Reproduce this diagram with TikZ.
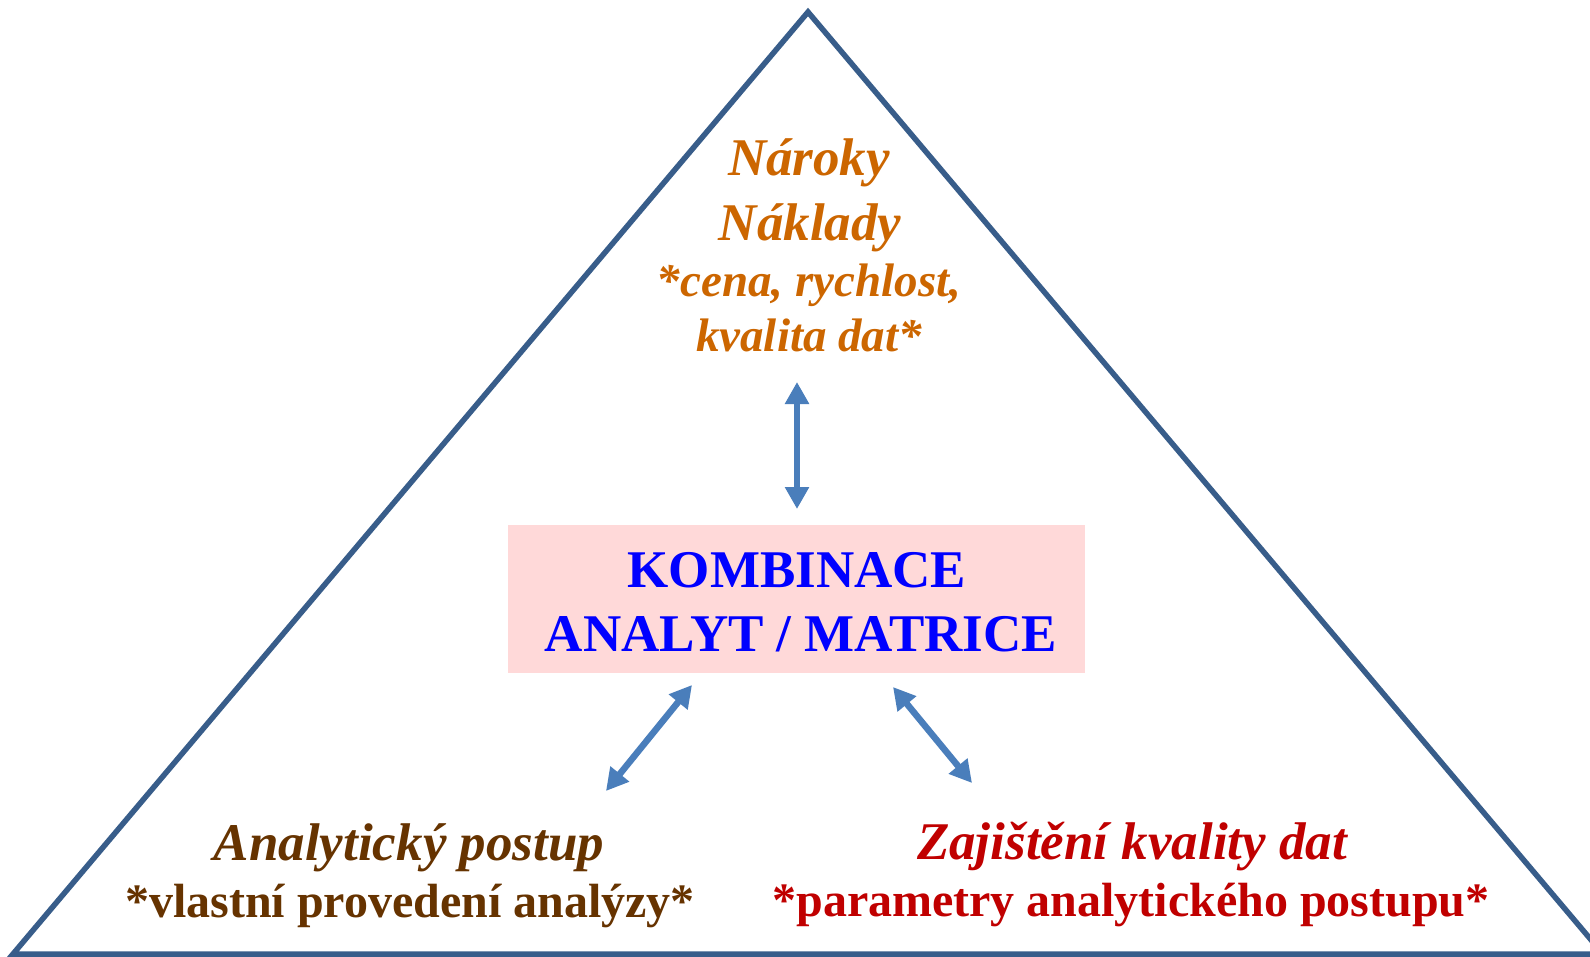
\documentclass[tikz,border=0pt]{standalone}
\usepackage{fontspec}
\setmainfont{Liberation Serif}
\usetikzlibrary{arrows.meta}
\definecolor{triblue}{RGB}{56,93,138}
\definecolor{arrblue}{RGB}{74,126,187}
\definecolor{orng}{RGB}{204,102,0}
\definecolor{brwn}{RGB}{102,51,0}
\definecolor{dred}{RGB}{192,0,0}
\definecolor{pinkbox}{RGB}{255,217,217}
\tikzset{
  tri/.style={draw=triblue, line width=5.5pt, line join=miter},
  dbl/.style={draw=arrblue, line width=6.5pt,
    {Triangle[width=23pt 0 0,length=22pt 0 0]}-{Triangle[width=23pt 0 0,length=22pt 0 0]}},
  big/.style={inner sep=0pt, anchor=base, font=\fontsize{53}{60}\selectfont\bfseries},
  bigit/.style={big, font=\fontsize{53}{60}\selectfont\bfseries\itshape},
  smit/.style={inner sep=0pt, anchor=base, font=\fontsize{47}{54}\selectfont\bfseries\itshape},
  sm/.style={inner sep=0pt, anchor=base, font=\fontsize{48}{54}\selectfont\bfseries},
}
\begin{document}
\begin{tikzpicture}[x=1pt,y=-1pt]
\clip (0,0) rectangle (1590,957);
\fill[white] (0,0) rectangle (1590,957);
% triangle
\draw[tri] (808,12) -- (13,954) -- (1603,954) -- cycle;
% central box
\node[fill=pinkbox, minimum width=577pt, minimum height=148pt, inner sep=0pt, anchor=north west] (comb) at (508,525) {};
\node[big, text=blue] (kombA) at (797,587) {KOMBINACE};
\node[big, text=blue] (kombB) at (801,651) {ANALYT / MATRICE};
% top text
\node[bigit, text=orng] (naroky) at (809,176) {Nároky};
\node[bigit, text=orng] (naklady) at (810,241) {Náklady};
\node[smit, text=orng] (cena) at (809,297) {*cena, rychlost,};
\node[smit, text=orng] (kval) at (809,352) {kvalita dat*};
% bottom left
\node[bigit, text=brwn] (anal) at (409,860) {Analytický postup};
\node[sm, text=brwn] (vlast) at (410,917) {*vlastní provedení analýzy*};
% bottom right
\node[bigit, text=dred] (zaj) at (1132,859) {Zajištění kvality dat};
\node[sm, text=dred] (param) at (1131,916) {*parametry analytického postupu*};
% arrows
\coordinate (vt) at (797,382);
\coordinate (vb) at (797,509);
\coordinate (lt) at (692,685);
\coordinate (lb) at (606,791);
\coordinate (rt) at (893,687);
\coordinate (rb) at (972,783);
\draw[dbl] (vt) -- (vb);
\draw[dbl] (lt) -- (lb);
\draw[dbl] (rt) -- (rb);
\end{tikzpicture}
\end{document}
